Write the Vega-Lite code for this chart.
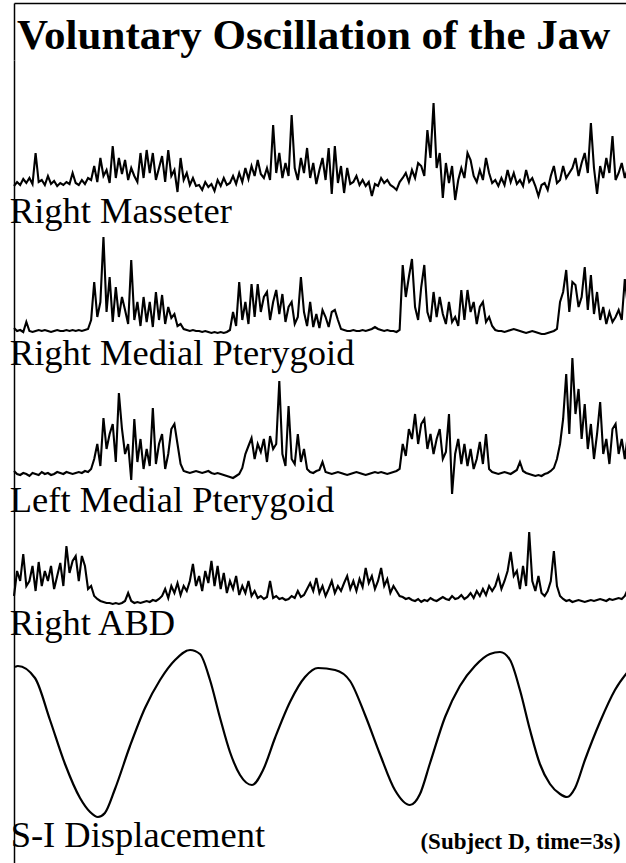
{
  "$schema": "https://vega.github.io/schema/vega-lite/v6.json",
  "padding": {"left": 9, "top": 3, "right": 0, "bottom": 0},
  "autosize": {"type": "pad"},
  "background": "white",
  "spacing": 0,
  "bounds": "flush",
  "config": {
    "view": {"stroke": null},
    "axis": {"labels": false, "ticks": false, "grid": false, "domainColor": "black", "domainWidth": 1.5},
    "title": {"font": "Liberation Serif", "fontSize": 36.5, "fontWeight": "normal", "color": "black", "anchor": "start", "orient": "bottom", "baseline": "alphabetic"},
    "line": {"color": "black", "strokeWidth": 2.1, "strokeJoin": "miter"}
  },
  "datasets": {
    "emg": [
      {"t":0,"rm":2,"rmp":4,"lmp":3,"abd":5},{"t":15,"rm":6,"rmp":1,"lmp":0,"abd":30},{"t":30,"rm":3,"rmp":2,"lmp":-1,"abd":20},{"t":45,"rm":9,"rmp":0,"lmp":1,"abd":47},{"t":60,"rm":5,"rmp":10,"lmp":0,"abd":15},
      {"t":75,"rm":10,"rmp":1,"lmp":-2,"abd":20},{"t":90,"rm":4,"rmp":0,"lmp":1,"abd":35},{"t":105,"rm":35,"rmp":1,"lmp":0,"abd":10},{"t":120,"rm":6,"rmp":2,"lmp":-1,"abd":39},{"t":135,"rm":8,"rmp":1,"lmp":2,"abd":15},
      {"t":150,"rm":3,"rmp":2,"lmp":0,"abd":30},{"t":165,"rm":12,"rmp":1,"lmp":1,"abd":20},{"t":180,"rm":4,"rmp":0,"lmp":-1,"abd":35},{"t":195,"rm":7,"rmp":1,"lmp":0,"abd":12},{"t":210,"rm":2,"rmp":2,"lmp":2,"abd":25},
      {"t":225,"rm":5,"rmp":1,"lmp":1,"abd":38},{"t":240,"rm":3,"rmp":1,"lmp":0,"abd":15},{"t":255,"rm":6,"rmp":2,"lmp":2,"abd":55},{"t":270,"rm":4,"rmp":1,"lmp":1,"abd":28},{"t":285,"rm":15,"rmp":2,"lmp":0,"abd":40},
      {"t":300,"rm":5,"rmp":1,"lmp":1,"abd":45},{"t":315,"rm":3,"rmp":2,"lmp":2,"abd":20},{"t":330,"rm":8,"rmp":1,"lmp":1,"abd":45},{"t":345,"rm":4,"rmp":2,"lmp":3,"abd":35},{"t":360,"rm":10,"rmp":3,"lmp":2,"abd":12},
      {"t":375,"rm":8,"rmp":12,"lmp":5,"abd":15},{"t":390,"rm":22,"rmp":50,"lmp":15,"abd":5},{"t":405,"rm":6,"rmp":15,"lmp":30,"abd":2},{"t":420,"rm":30,"rmp":30,"lmp":8,"abd":0},{"t":435,"rm":12,"rmp":95,"lmp":56,"abd":-1},
      {"t":450,"rm":18,"rmp":20,"lmp":25,"abd":-2},{"t":465,"rm":5,"rmp":55,"lmp":40,"abd":-2},{"t":480,"rm":42,"rmp":10,"lmp":50,"abd":-3},{"t":495,"rm":10,"rmp":45,"lmp":12,"abd":-2},{"t":510,"rm":30,"rmp":15,"lmp":81,"abd":-3},
      {"t":525,"rm":14,"rmp":35,"lmp":45,"abd":-2},{"t":540,"rm":28,"rmp":22,"lmp":20,"abd":0},{"t":555,"rm":8,"rmp":8,"lmp":30,"abd":8},{"t":570,"rm":20,"rmp":72,"lmp":-6,"abd":0},{"t":585,"rm":12,"rmp":12,"lmp":55,"abd":-2},
      {"t":600,"rm":6,"rmp":30,"lmp":12,"abd":-1},{"t":615,"rm":35,"rmp":6,"lmp":35,"abd":-2},{"t":630,"rm":10,"rmp":35,"lmp":5,"abd":-1},{"t":645,"rm":38,"rmp":10,"lmp":25,"abd":0},{"t":660,"rm":15,"rmp":30,"lmp":8,"abd":-1},
      {"t":675,"rm":35,"rmp":5,"lmp":66,"abd":1},{"t":690,"rm":8,"rmp":40,"lmp":10,"abd":0},{"t":705,"rm":20,"rmp":12,"lmp":30,"abd":2},{"t":720,"rm":32,"rmp":37,"lmp":40,"abd":5},{"t":735,"rm":6,"rmp":8,"lmp":5,"abd":12},
      {"t":750,"rm":38,"rmp":25,"lmp":20,"abd":3},{"t":765,"rm":12,"rmp":14,"lmp":45,"abd":15},{"t":780,"rm":18,"rmp":18,"lmp":50,"abd":8},{"t":795,"rm":-4,"rmp":6,"lmp":30,"abd":18},{"t":810,"rm":30,"rmp":8,"lmp":10,"abd":6},
      {"t":825,"rm":8,"rmp":3,"lmp":3,"abd":15},{"t":840,"rm":15,"rmp":2,"lmp":2,"abd":10},{"t":855,"rm":3,"rmp":1,"lmp":1,"abd":20},{"t":870,"rm":10,"rmp":2,"lmp":2,"abd":37},{"t":885,"rm":2,"rmp":1,"lmp":3,"abd":15},
      {"t":900,"rm":3,"rmp":1,"lmp":2,"abd":25},{"t":915,"rm":-2,"rmp":0,"lmp":1,"abd":10},{"t":930,"rm":6,"rmp":1,"lmp":2,"abd":30},{"t":945,"rm":1,"rmp":0,"lmp":3,"abd":18},{"t":960,"rm":4,"rmp":-1,"lmp":1,"abd":40},
      {"t":975,"rm":-3,"rmp":0,"lmp":0,"abd":15},{"t":990,"rm":8,"rmp":-1,"lmp":1,"abd":35},{"t":1005,"rm":2,"rmp":0,"lmp":0,"abd":12},{"t":1020,"rm":10,"rmp":-1,"lmp":-1,"abd":28},{"t":1035,"rm":3,"rmp":0,"lmp":-2,"abd":8},
      {"t":1050,"rm":5,"rmp":2,"lmp":-3,"abd":20},{"t":1065,"rm":12,"rmp":20,"lmp":-4,"abd":12},{"t":1080,"rm":4,"rmp":6,"lmp":-2,"abd":25},{"t":1095,"rm":15,"rmp":50,"lmp":0,"abd":6},{"t":1110,"rm":6,"rmp":12,"lmp":6,"abd":15},
      {"t":1125,"rm":20,"rmp":30,"lmp":20,"abd":8},{"t":1140,"rm":9,"rmp":8,"lmp":28,"abd":20},{"t":1155,"rm":22,"rmp":48,"lmp":36,"abd":5},{"t":1170,"rm":12,"rmp":15,"lmp":15,"abd":10},{"t":1185,"rm":28,"rmp":48,"lmp":30,"abd":3},
      {"t":1200,"rm":14,"rmp":20,"lmp":22,"abd":5},{"t":1215,"rm":10,"rmp":35,"lmp":35,"abd":2},{"t":1230,"rm":20,"rmp":40,"lmp":12,"abd":4},{"t":1245,"rm":8,"rmp":12,"lmp":38,"abd":20},{"t":1260,"rm":63,"rmp":30,"lmp":25,"abd":3},
      {"t":1275,"rm":15,"rmp":42,"lmp":30,"abd":5},{"t":1290,"rm":35,"rmp":18,"lmp":93,"abd":2},{"t":1305,"rm":10,"rmp":38,"lmp":20,"abd":3},{"t":1320,"rm":25,"rmp":10,"lmp":8,"abd":1},{"t":1335,"rm":12,"rmp":25,"lmp":68,"abd":2},
      {"t":1350,"rm":73,"rmp":30,"lmp":15,"abd":5},{"t":1365,"rm":20,"rmp":8,"lmp":10,"abd":3},{"t":1380,"rm":8,"rmp":15,"lmp":40,"abd":10},{"t":1395,"rm":30,"rmp":55,"lmp":12,"abd":4},{"t":1410,"rm":15,"rmp":20,"lmp":25,"abd":6},
      {"t":1425,"rm":40,"rmp":6,"lmp":5,"abd":12},{"t":1440,"rm":10,"rmp":30,"lmp":2,"abd":18},{"t":1455,"rm":25,"rmp":5,"lmp":1,"abd":10},{"t":1470,"rm":4,"rmp":18,"lmp":3,"abd":23},{"t":1485,"rm":18,"rmp":4,"lmp":4,"abd":8},
      {"t":1500,"rm":30,"rmp":22,"lmp":12,"abd":15},{"t":1515,"rm":8,"rmp":15,"lmp":2,"abd":5},{"t":1530,"rm":40,"rmp":5,"lmp":1,"abd":12},{"t":1545,"rm":-6,"rmp":20,"lmp":0,"abd":20},{"t":1560,"rm":42,"rmp":22,"lmp":1,"abd":8},
      {"t":1575,"rm":5,"rmp":12,"lmp":2,"abd":15},{"t":1590,"rm":22,"rmp":3,"lmp":1,"abd":10},{"t":1605,"rm":-5,"rmp":2,"lmp":0,"abd":18},{"t":1620,"rm":20,"rmp":1,"lmp":-1,"abd":25},{"t":1635,"rm":4,"rmp":1,"lmp":0,"abd":12},
      {"t":1650,"rm":6,"rmp":2,"lmp":1,"abd":20},{"t":1665,"rm":12,"rmp":1,"lmp":2,"abd":10},{"t":1680,"rm":3,"rmp":1,"lmp":1,"abd":22},{"t":1695,"rm":8,"rmp":2,"lmp":0,"abd":14},{"t":1710,"rm":2,"rmp":1,"lmp":-1,"abd":33},
      {"t":1725,"rm":6,"rmp":2,"lmp":0,"abd":18},{"t":1740,"rm":-8,"rmp":3,"lmp":1,"abd":25},{"t":1755,"rm":4,"rmp":5,"lmp":2,"abd":12},{"t":1770,"rm":2,"rmp":3,"lmp":1,"abd":20},{"t":1785,"rm":10,"rmp":2,"lmp":2,"abd":33},
      {"t":1800,"rm":5,"rmp":1,"lmp":1,"abd":15},{"t":1815,"rm":8,"rmp":2,"lmp":0,"abd":22},{"t":1830,"rm":3,"rmp":1,"lmp":1,"abd":8},{"t":1845,"rm":1,"rmp":1,"lmp":2,"abd":15},{"t":1860,"rm":-2,"rmp":0,"lmp":3,"abd":10},
      {"t":1875,"rm":6,"rmp":2,"lmp":5,"abd":5},{"t":1890,"rm":10,"rmp":67,"lmp":30,"abd":4},{"t":1905,"rm":15,"rmp":35,"lmp":18,"abd":2},{"t":1920,"rm":6,"rmp":55,"lmp":45,"abd":3},{"t":1935,"rm":18,"rmp":73,"lmp":35,"abd":1},
      {"t":1950,"rm":10,"rmp":25,"lmp":60,"abd":0},{"t":1965,"rm":25,"rmp":12,"lmp":30,"abd":2},{"t":1980,"rm":22,"rmp":45,"lmp":50,"abd":-1},{"t":1995,"rm":12,"rmp":67,"lmp":55,"abd":1},{"t":2010,"rm":58,"rmp":20,"lmp":25,"abd":0},
      {"t":2025,"rm":30,"rmp":10,"lmp":40,"abd":3},{"t":2040,"rm":85,"rmp":40,"lmp":20,"abd":1},{"t":2055,"rm":20,"rmp":15,"lmp":35,"abd":0},{"t":2070,"rm":35,"rmp":35,"lmp":45,"abd":2},{"t":2085,"rm":-10,"rmp":18,"lmp":15,"abd":4},
      {"t":2100,"rm":25,"rmp":8,"lmp":22,"abd":2},{"t":2115,"rm":5,"rmp":30,"lmp":60,"abd":1},{"t":2130,"rm":22,"rmp":10,"lmp":-20,"abd":5},{"t":2145,"rm":-12,"rmp":15,"lmp":20,"abd":2},{"t":2160,"rm":8,"rmp":6,"lmp":35,"abd":3},
      {"t":2175,"rm":20,"rmp":42,"lmp":10,"abd":6},{"t":2190,"rm":10,"rmp":12,"lmp":30,"abd":2},{"t":2205,"rm":35,"rmp":42,"lmp":8,"abd":4},{"t":2220,"rm":28,"rmp":20,"lmp":25,"abd":8},{"t":2235,"rm":12,"rmp":30,"lmp":5,"abd":3},
      {"t":2250,"rm":6,"rmp":8,"lmp":15,"abd":10},{"t":2265,"rm":18,"rmp":25,"lmp":32,"abd":5},{"t":2280,"rm":8,"rmp":30,"lmp":10,"abd":12},{"t":2295,"rm":30,"rmp":10,"lmp":40,"abd":6},{"t":2310,"rm":15,"rmp":15,"lmp":5,"abd":15},
      {"t":2325,"rm":5,"rmp":6,"lmp":2,"abd":10},{"t":2340,"rm":8,"rmp":2,"lmp":1,"abd":15},{"t":2355,"rm":2,"rmp":1,"lmp":0,"abd":25},{"t":2370,"rm":10,"rmp":1,"lmp":1,"abd":12},{"t":2385,"rm":3,"rmp":0,"lmp":2,"abd":20},
      {"t":2400,"rm":18,"rmp":1,"lmp":1,"abd":30},{"t":2415,"rm":6,"rmp":2,"lmp":0,"abd":49},{"t":2430,"rm":15,"rmp":3,"lmp":2,"abd":25},{"t":2445,"rm":4,"rmp":2,"lmp":4,"abd":30},{"t":2460,"rm":8,"rmp":1,"lmp":12,"abd":12},
      {"t":2475,"rm":2,"rmp":0,"lmp":3,"abd":35},{"t":2490,"rm":18,"rmp":-1,"lmp":1,"abd":15},{"t":2505,"rm":6,"rmp":0,"lmp":0,"abd":69},{"t":2520,"rm":10,"rmp":1,"lmp":-1,"abd":20},{"t":2535,"rm":2,"rmp":0,"lmp":-2,"abd":10},
      {"t":2550,"rm":-8,"rmp":-1,"lmp":-1,"abd":25},{"t":2565,"rm":3,"rmp":-2,"lmp":-2,"abd":8},{"t":2580,"rm":5,"rmp":-2,"lmp":0,"abd":5},{"t":2595,"rm":-2,"rmp":-1,"lmp":1,"abd":10},{"t":2610,"rm":12,"rmp":0,"lmp":3,"abd":20},
      {"t":2625,"rm":22,"rmp":1,"lmp":6,"abd":50},{"t":2640,"rm":5,"rmp":3,"lmp":15,"abd":15},{"t":2655,"rm":8,"rmp":30,"lmp":30,"abd":5},{"t":2670,"rm":22,"rmp":40,"lmp":55,"abd":2},{"t":2685,"rm":10,"rmp":62,"lmp":100,"abd":0},
      {"t":2700,"rm":15,"rmp":20,"lmp":40,"abd":1},{"t":2715,"rm":20,"rmp":50,"lmp":116,"abd":-1},{"t":2730,"rm":30,"rmp":47,"lmp":60,"abd":0},{"t":2745,"rm":12,"rmp":25,"lmp":85,"abd":1},{"t":2760,"rm":25,"rmp":35,"lmp":35,"abd":0},
      {"t":2775,"rm":35,"rmp":65,"lmp":70,"abd":-1},{"t":2790,"rm":15,"rmp":22,"lmp":25,"abd":0},{"t":2805,"rm":65,"rmp":57,"lmp":50,"abd":1},{"t":2820,"rm":20,"rmp":18,"lmp":15,"abd":0},{"t":2835,"rm":-6,"rmp":40,"lmp":40,"abd":1},
      {"t":2850,"rm":22,"rmp":12,"lmp":72,"abd":2},{"t":2865,"rm":10,"rmp":25,"lmp":20,"abd":1},{"t":2880,"rm":30,"rmp":8,"lmp":35,"abd":0},{"t":2895,"rm":15,"rmp":20,"lmp":10,"abd":2},{"t":2910,"rm":52,"rmp":10,"lmp":45,"abd":1},
      {"t":2925,"rm":8,"rmp":15,"lmp":50,"abd":2},{"t":2940,"rm":15,"rmp":22,"lmp":20,"abd":3},{"t":2955,"rm":25,"rmp":12,"lmp":35,"abd":2},{"t":2970,"rm":10,"rmp":53,"lmp":15,"abd":5},{"t":2985,"rm":20,"rmp":25,"lmp":40,"abd":12},
      {"t":3000,"rm":30,"rmp":40,"lmp":25,"abd":22}
    ],
    "si": [
      {"t":5,"v":196},{"t":19,"v":197},{"t":102,"v":185},{"t":175,"v":143},{"t":248,"v":99},{"t":321,"v":65},{"t":370,"v":51},{"t":408,"v":46},{"t":442,"v":50},{"t":491,"v":74},
      {"t":564,"v":117},{"t":637,"v":155},{"t":710,"v":183},{"t":783,"v":203},{"t":856,"v":213},{"t":904,"v":209},{"t":953,"v":183},{"t":1002,"v":145},{"t":1050,"v":111},{"t":1099,"v":88},
      {"t":1157,"v":78},{"t":1211,"v":93},{"t":1269,"v":125},{"t":1342,"v":161},{"t":1415,"v":186},{"t":1478,"v":195},{"t":1561,"v":193},{"t":1634,"v":182},{"t":1707,"v":148},{"t":1779,"v":109},
      {"t":1852,"v":73},{"t":1925,"v":58},{"t":1974,"v":69},{"t":2023,"v":100},{"t":2096,"v":146},{"t":2168,"v":177},{"t":2241,"v":197},{"t":2314,"v":209},{"t":2363,"v":211},{"t":2412,"v":203},
      {"t":2460,"v":173},{"t":2509,"v":133},{"t":2557,"v":99},{"t":2606,"v":79},{"t":2655,"v":69},{"t":2689,"v":66},{"t":2728,"v":75},{"t":2776,"v":103},{"t":2849,"v":141},{"t":2922,"v":173},
      {"t":3000,"v":195}
    ]
  },
  "vconcat": [
    {
      "width": 617, "height": 57,
      "data": {"values": [{"label": "Voluntary Oscillation of the Jaw"}]},
      "mark": {"type": "text", "font": "Liberation Serif", "fontSize": 43, "fontWeight": "bold", "align": "left", "baseline": "alphabetic", "dx": 3, "color": "black"},
      "encoding": {
        "text": {"field": "label"},
        "x": {"datum": 0, "type": "quantitative", "scale": {"domain": [0, 3000], "nice": false}, "axis": {"orient": "top"}, "title": null},
        "y": {"datum": 11, "type": "quantitative", "scale": {"domain": [0, 57], "nice": false}, "title": null}
      }
    },
    {
      "width": 617, "height": 140,
      "data": {"name": "emg"},
      "title": {"text": "Right Masseter", "offset": -10},
      "mark": {"type": "line"},
      "encoding": {
        "x": {"field": "t", "type": "quantitative", "scale": {"domain": [0, 3000], "nice": false}, "axis": null},
        "y": {"field": "rm", "type": "quantitative", "scale": {"domain": [-12, 128], "nice": false, "zero": false}, "title": null}
      }
    },
    {
      "width": 617, "height": 145,
      "data": {"name": "emg"},
      "title": {"text": "Right Medial Pterygoid", "offset": -9},
      "mark": {"type": "line"},
      "encoding": {
        "x": {"field": "t", "type": "quantitative", "scale": {"domain": [0, 3000], "nice": false}, "axis": null},
        "y": {"field": "rmp", "type": "quantitative", "scale": {"domain": [-13, 132], "nice": false, "zero": false}, "title": null}
      }
    },
    {
      "width": 617, "height": 149,
      "data": {"name": "emg"},
      "title": {"text": "Left Medial Pterygoid", "offset": -15},
      "mark": {"type": "line"},
      "encoding": {
        "x": {"field": "t", "type": "quantitative", "scale": {"domain": [0, 3000], "nice": false}, "axis": null},
        "y": {"field": "lmp", "type": "quantitative", "scale": {"domain": [-20, 129], "nice": false, "zero": false}, "title": null}
      }
    },
    {
      "width": 617, "height": 118,
      "data": {"name": "emg"},
      "title": {"text": "Right ABD", "offset": -6},
      "mark": {"type": "line"},
      "encoding": {
        "x": {"field": "t", "type": "quantitative", "scale": {"domain": [0, 3000], "nice": false}, "axis": null},
        "y": {"field": "abd", "type": "quantitative", "scale": {"domain": [-11, 107], "nice": false, "zero": false}, "title": null}
      }
    },
    {
      "width": 617, "height": 251,
      "title": {"text": "S-I Displacement", "offset": -45},
      "layer": [
        {
          "data": {"name": "si"},
          "mark": {"type": "line", "interpolate": "monotone", "strokeWidth": 2.2},
          "encoding": {
            "x": {"field": "t", "type": "quantitative", "scale": {"domain": [0, 3000], "nice": false}, "axis": null},
            "y": {"field": "v", "type": "quantitative", "scale": {"domain": [0, 251], "nice": false, "zero": false}, "title": null}
          }
        },
        {
          "data": {"values": [{"note": "(Subject D, time=3s)"}]},
          "mark": {"type": "text", "font": "Liberation Serif", "fontSize": 23, "fontWeight": "bold", "align": "right", "baseline": "alphabetic", "color": "black"},
          "encoding": {
            "text": {"field": "note"},
            "x": {"datum": 2950, "type": "quantitative"},
            "y": {"datum": 14, "type": "quantitative"}
          }
        }
      ]
    }
  ]
}
